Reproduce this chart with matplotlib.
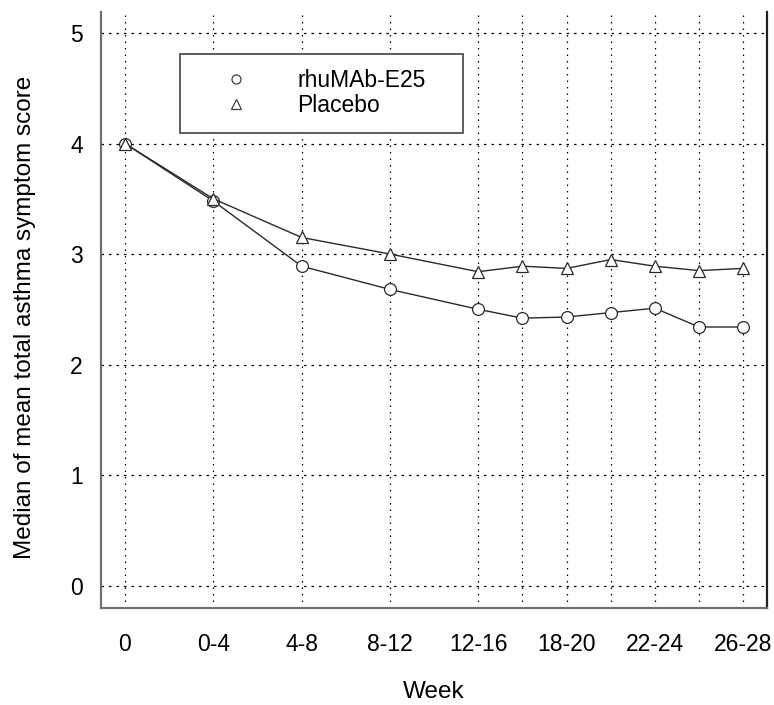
import numpy as np
import matplotlib
matplotlib.use("Agg")
import matplotlib.pyplot as plt
from matplotlib.lines import Line2D
from matplotlib.patches import Rectangle

plt.rcParams['font.family'] = ['Liberation Sans', 'DejaVu Sans']

# Data
periods = ['0', '0-4', '4-8', '8-12', '12-16', '16-18', '18-20', '20-22', '22-24', '24-26', '26-28']
week_end = [0, 4, 8, 12, 16, 18, 20, 22, 24, 26, 28]
rhumab = [4.00, 3.48, 2.89, 2.68, 2.50, 2.42, 2.43, 2.47, 2.51, 2.34, 2.34]
placebo = [4.00, 3.50, 3.15, 3.00, 2.84, 2.89, 2.87, 2.95, 2.89, 2.85, 2.87]
shown_labels = ['0', '0-4', '4-8', '8-12', '12-16', '18-20', '22-24', '26-28']

# x position: one unit per 4 weeks
x = np.array(week_end) / 4.0
major_x = [x[periods.index(p)] for p in shown_labels]
minor_x = [xi for xi in x if xi not in major_x]

W, H = 774, 705
fig = plt.figure(figsize=(W / 100, H / 100), dpi=100)
ax = fig.add_axes([100.7 / W, 1 - 607.7 / H, (767 - 100.7) / W, (607.7 - 12) / H])

line_col = '#2a2a2a'
ax.plot(x, rhumab, color=line_col, lw=1.0, marker='o', ms=8.5, mfc='white',
        mec=line_col, mew=0.9, zorder=3)
ax.plot(x, placebo, color=line_col, lw=1.0, marker='^', ms=8.5, mfc='white',
        mec=line_col, mew=0.9, zorder=3)

ax.set_xlim(-0.275, 7.27)
ax.set_ylim(-0.2, 5.19)
ax.set_xticks(major_x)
ax.set_xticklabels(shown_labels)
ax.set_xticks(minor_x, minor=True)
ax.set_yticks([0, 1, 2, 3, 4, 5])
ax.tick_params(axis='both', which='both', length=0, labelsize=16.5)
ax.tick_params(axis='x', pad=18)
ax.tick_params(axis='y', pad=13)

ax.grid(True, which='both', axis='x', color='black', lw=0.9, linestyle=(0, (1.2, 4)))
ax.grid(True, which='major', axis='y', color='black', lw=0.9, linestyle=(0, (2, 4)))
ax.set_axisbelow(True)

for side in ['left', 'bottom']:
    ax.spines[side].set_color('#707070')
    ax.spines[side].set_linewidth(1.6)
ax.spines['right'].set_color('#202020')
ax.spines['right'].set_linewidth(1.6)
ax.spines['top'].set_visible(False)

ax.set_xlabel('Week', fontsize=17.5)
ax.xaxis.set_label_coords(0.5, -0.123)
ax.set_ylabel('Median of mean total asthma symptom score', fontsize=17.5)
ax.yaxis.set_label_coords(-0.097, 0.488)

# legend box
fig.patches.append(Rectangle((180 / W, 1 - 133 / H), (463 - 180) / W, (133 - 54) / H,
                             transform=fig.transFigure, facecolor='white',
                             edgecolor='#505050', lw=1.3, zorder=5))
handles = [Line2D([], [], ls='none', marker='o', ms=6.5, mfc='white', mec='#404040', mew=0.9),
           Line2D([], [], ls='none', marker='^', ms=6.5, mfc='white', mec='#404040', mew=0.9)]
leg = fig.legend(handles, ['rhuMAb-E25', 'Placebo'], loc='center left',
                 bbox_to_anchor=(202 / W, 1 - 93 / H), frameon=False, fontsize=16.5,
                 handletextpad=1.65, labelspacing=0.05, borderpad=0)
leg.set_zorder(6)

fig.savefig('out.png', dpi=100)
